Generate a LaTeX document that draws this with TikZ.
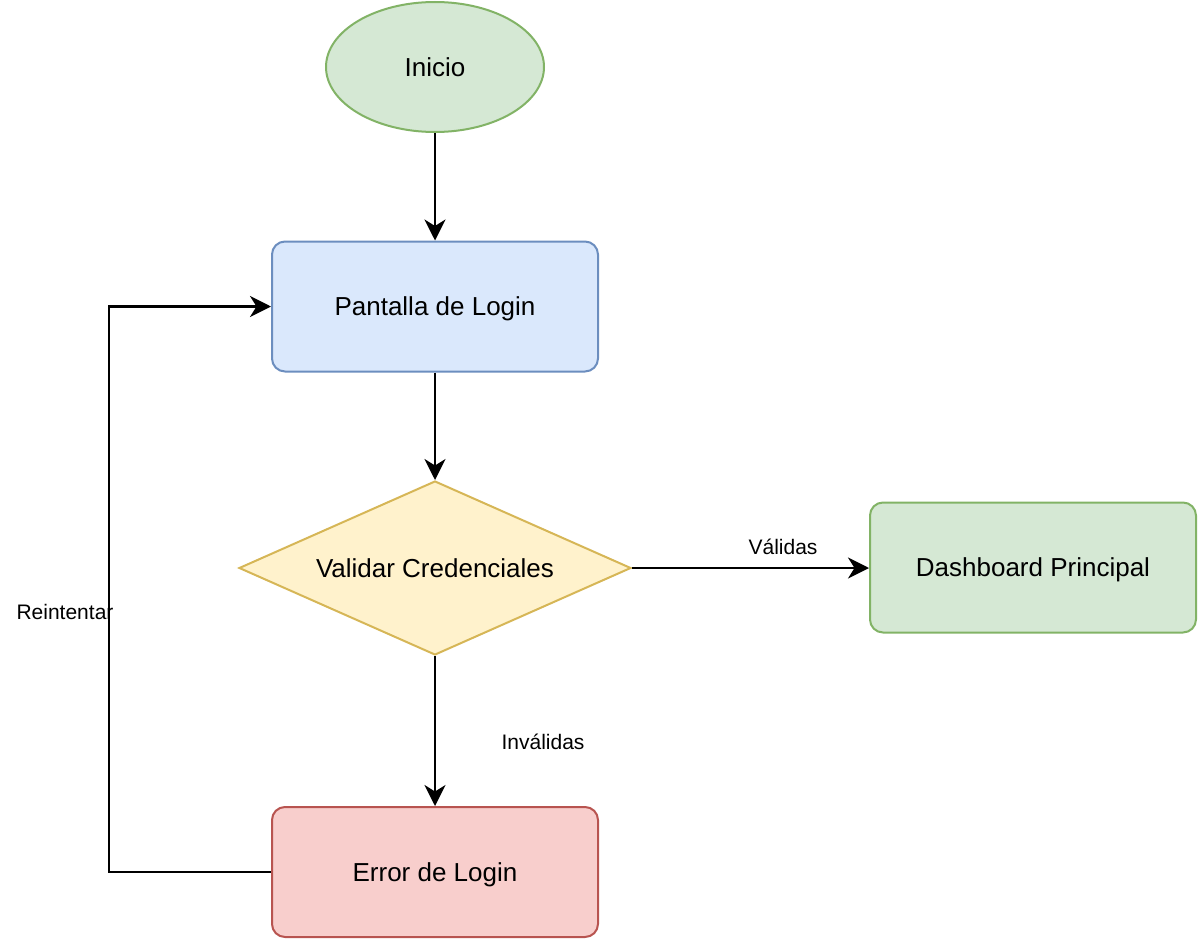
\documentclass[tikz,border=0pt]{standalone}
\usepackage{fontspec}
\setmainfont{Liberation Sans}
\usetikzlibrary{shapes.geometric,arrows.meta}
\definecolor{gfill}{HTML}{D5E8D4}\definecolor{gdraw}{HTML}{82B366}
\definecolor{bfill}{HTML}{DAE8FC}\definecolor{bdraw}{HTML}{6C8EBF}
\definecolor{yfill}{HTML}{FFF2CC}\definecolor{ydraw}{HTML}{D6B656}
\definecolor{rfill}{HTML}{F8CECC}\definecolor{rdraw}{HTML}{B85450}
\begin{document}
\begin{tikzpicture}[x=1pt,y=-1pt,
  base/.style={line width=2pt,inner sep=0pt,font=\fontsize{26}{30}\selectfont,text height=18.6pt,text depth=0pt},
  startnode/.style={base,ellipse,draw=gdraw,fill=gfill,minimum width=218pt,minimum height=130pt},
  procbox/.style={base,rectangle,rounded corners=13pt,minimum width=326pt,minimum height=130pt},
  decision/.style={base,diamond,aspect=2.25,draw=ydraw,fill=yfill,minimum width=392pt,minimum height=174pt},
  conn/.style={line width=2.2pt,-{Stealth[length=21pt,width=21pt,inset=6.5pt]}},
  lbl/.style={font=\fontsize{21}{25}\selectfont,inner sep=0pt}]
\useasboundingbox (0,0) rectangle (1200,942);
\node[startnode] (inicio) at (435,67) {Inicio};
\node[procbox,draw=bdraw,fill=bfill] (login) at (435,306.5) {Pantalla de Login};
\node[decision] (valid) at (435,568) {Validar Credenciales};
\node[procbox,draw=gdraw,fill=gfill] (dash) at (1033,567.5) {Dashboard Principal};
\node[procbox,draw=rdraw,fill=rfill] (error) at (435,872) {Error de Login};
\draw[conn] (inicio.south) -- (login.north);
\draw[conn] (login.south) -- (valid.north);
\draw[conn] (valid.east) -- (valid.east -| dash.west);
\draw[conn] (valid.south) -- (error.north);
\coordinate (c1) at (109,872);
\coordinate (c2) at (109,306.5);
\draw[conn] (error.west) -- (c1) -- (c2) -- (login.west);
\node[lbl] (lv) at (783,547) {Válidas};
\node[lbl] (li) at (543,742) {Inválidas};
\node[lbl] (lr) at (65,612) {Reintentar};
\end{tikzpicture}
\end{document}
